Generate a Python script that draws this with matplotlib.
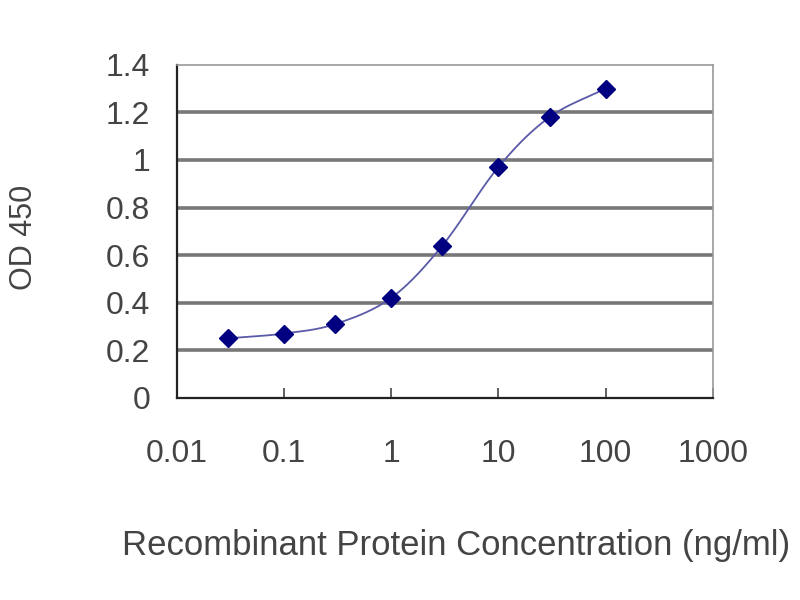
import numpy as np
import matplotlib
matplotlib.use("Agg")
import matplotlib.pyplot as plt

# Data
conc = [0.03, 0.1, 0.3, 1, 3, 10, 30, 100]
od450 = [0.25, 0.27, 0.31, 0.42, 0.64, 0.97, 1.18, 1.30]
xticks = [0.01, 0.1, 1, 10, 100, 1000]
xticklabels = ["0.01", "0.1", "1", "10", "100", "1000"]
yticks = [0, 0.2, 0.4, 0.6, 0.8, 1.0, 1.2, 1.4]
yticklabels = ["0", "0.2", "0.4", "0.6", "0.8", "1", "1.2", "1.4"]

plt.rcParams['font.family'] = ['Liberation Sans', 'DejaVu Sans']

fig = plt.figure(figsize=(8, 6), dpi=100)
ax = fig.add_axes([0.221, 0.337, 0.670, 0.555])

# smoothed line (Catmull-Rom in log-x space, like a spreadsheet smooth line)
lx = np.log10(conc)
ly = np.array(od450)
P = np.column_stack([lx, ly])
P_ext = np.vstack([2 * P[0] - P[1], P, 2 * P[-1] - P[-2]])
xs, ys = [], []
t = np.linspace(0, 1, 30)
for i in range(1, len(P_ext) - 2):
    p0, p1, p2, p3 = P_ext[i - 1], P_ext[i], P_ext[i + 1], P_ext[i + 2]
    for tt in t:
        pt = 0.5 * ((2 * p1) + (-p0 + p2) * tt + (2 * p0 - 5 * p1 + 4 * p2 - p3) * tt**2
                    + (-p0 + 3 * p1 - 3 * p2 + p3) * tt**3)
        xs.append(pt[0]); ys.append(pt[1])
ax.plot(10 ** np.array(xs), ys, color="#5a5aa8", lw=1.3, zorder=3)
ax.plot(conc, od450, linestyle="none", marker="D", markersize=9.5,
        color="#000080", zorder=4)

ax.set_xscale("log")
ax.set_xlim(0.01, 1000)
ax.set_ylim(0, 1.4)
ax.set_xticks(xticks)
ax.set_xticklabels(xticklabels)
ax.minorticks_off()
ax.set_yticks(yticks)
ax.set_yticklabels(yticklabels)

for v in yticks[1:-1]:
    ax.axhline(v, color="#777777", lw=2.6, zorder=1)

for s in ["left", "bottom"]:
    ax.spines[s].set_color("#222222")
    ax.spines[s].set_linewidth(1.6)
for s in ["top", "right"]:
    ax.spines[s].set_color("#999999")
    ax.spines[s].set_linewidth(1.2)

ax.tick_params(axis="x", direction="in", length=7, width=1.2, color="#444444",
               labelsize=23, labelcolor="#444444", pad=30)
ax.tick_params(axis="y", length=0, labelsize=23, labelcolor="#444444", pad=19)

fig.text(122 / 800, 1 - 545 / 600, "Recombinant Protein Concentration (ng/ml)",
         fontsize=25, color="#444444", ha="left", va="center")
fig.text(24 / 800, 1 - 237 / 600, "OD 450", fontsize=22, color="#444444",
         rotation=90, ha="center", va="center")

fig.savefig("out.png", dpi=100, facecolor="white")
